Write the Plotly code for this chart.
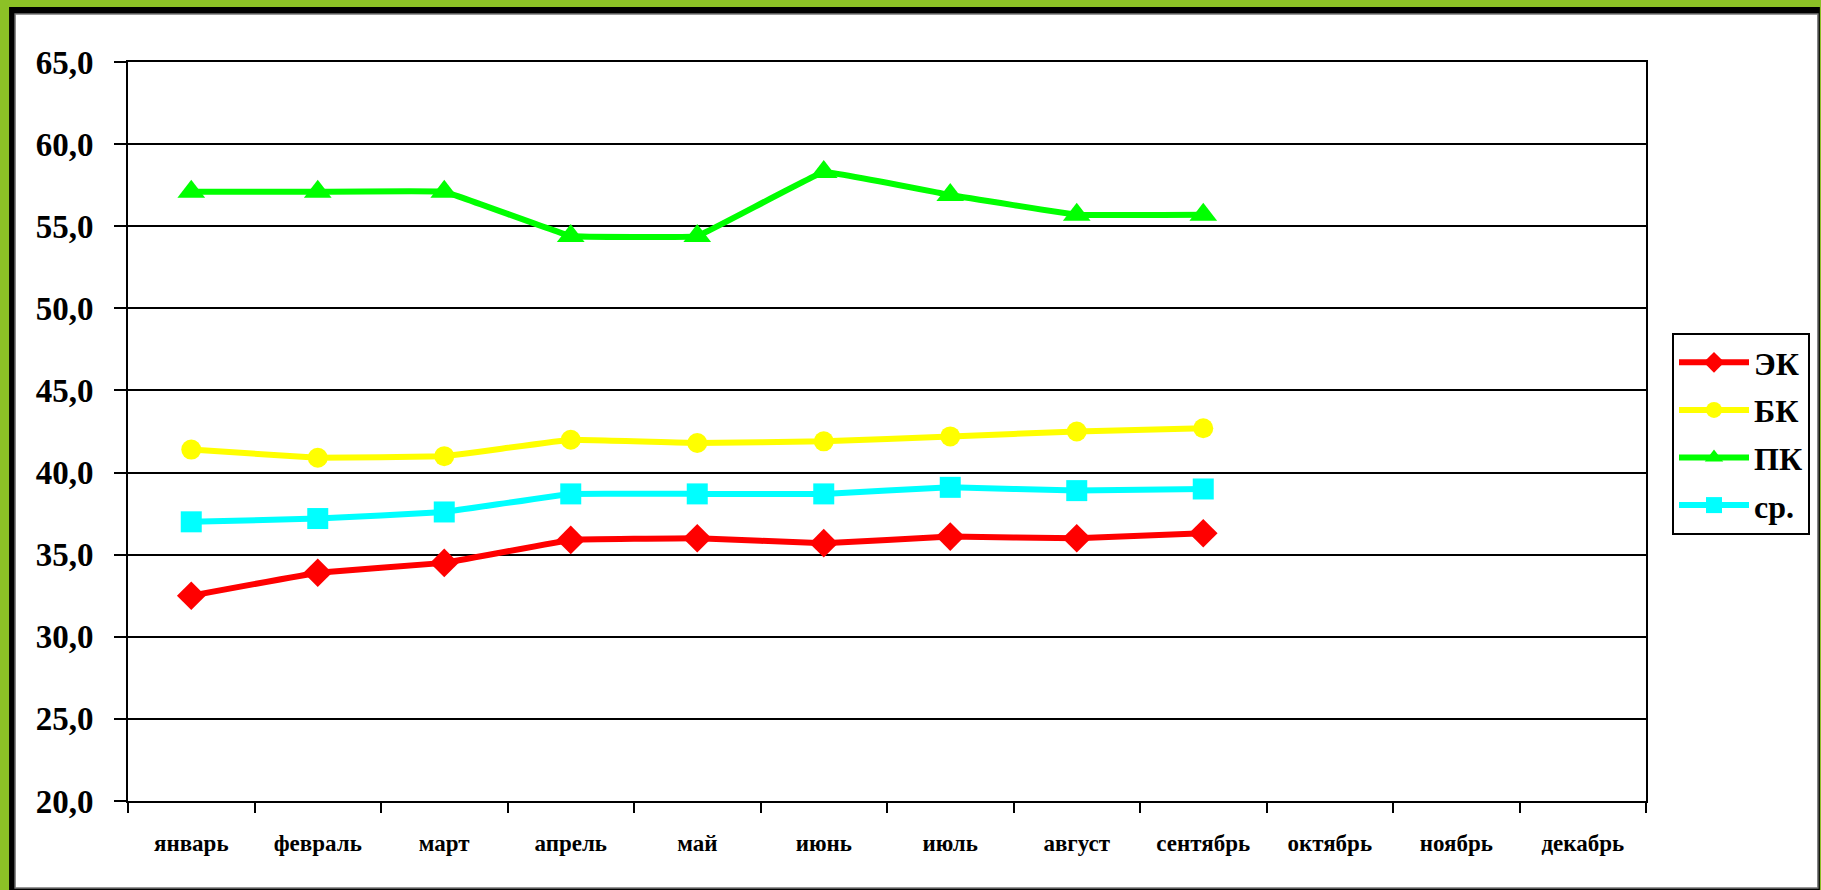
import plotly.graph_objects as go

# Months shown on the category axis
months = ["январь", "февраль", "март", "апрель", "май", "июнь",
          "июль", "август", "сентябрь", "октябрь", "ноябрь", "декабрь"]

# Monthly values (January–September filled in)
ek_values = [32.5, 33.9, 34.5, 35.9, 36.0, 35.7, 36.1, 36.0, 36.3]
bk_values = [41.4, 40.9, 41.0, 42.0, 41.8, 41.9, 42.2, 42.5, 42.7]
pk_values = [57.1, 57.1, 57.1, 54.4, 54.4, 58.3, 56.9, 55.7, 55.7]
avg_values = [37.0, 37.2, 37.6, 38.7, 38.7, 38.7, 39.1, 38.9, 39.0]

series_names = ["ЭК", "БК", "ПК", "ср."]
y_ticks = [20, 25, 30, 35, 40, 45, 50, 55, 60, 65]

W, H = 1821, 890
PLOT_L, PLOT_R, PLOT_T, PLOT_B = 128, 1647, 62, 801
SERIF = "Liberation Serif"


def px(x):
    return (x - PLOT_L) / (PLOT_R - PLOT_L)


def py(y):
    return (PLOT_B - y) / (PLOT_B - PLOT_T)


styles = [
    dict(color="#FF0000", symbol="diamond", size=22),
    dict(color="#FFFF00", symbol="circle", size=20),
    dict(color="#00FF00", symbol="triangle-up", size=24),
    dict(color="#00FFFF", symbol="square", size=21),
]

fig = go.Figure()
for name, vals, st in zip(series_names, [ek_values, bk_values, pk_values, avg_values], styles):
    fig.add_trace(go.Scatter(
        x=months[:len(vals)], y=vals, name=name, legendgroup=name,
        mode="lines+markers",
        line=dict(color=st["color"], width=6, shape="spline", smoothing=0.15),
        marker=dict(color=st["color"], symbol=st["symbol"], size=st["size"], line=dict(width=0)),
    ))

# Frame around the chart: green page, black edge, white panel
shapes = [
    dict(type="rect", xref="paper", yref="paper", layer="below",
         x0=px(9), x1=px(1821), y0=py(890), y1=py(7),
         fillcolor="#000000", line=dict(width=0)),
    dict(type="rect", xref="paper", yref="paper", layer="below",
         x0=px(15), x1=px(1819), y0=py(888), y1=py(14),
         fillcolor="#FFFFFF", line=dict(color="#777777", width=1.5)),
]

fig.update_layout(
    width=W, height=H, autosize=False,
    margin=dict(l=PLOT_L, r=W - PLOT_R, t=PLOT_T, b=H - PLOT_B, pad=0),
    paper_bgcolor="#8CC126",
    plot_bgcolor="#FFFFFF",
    separators=", ",
    shapes=shapes,
    font=dict(family=SERIF, color="#000000"),
    showlegend=True,
    legend=dict(
        x=px(1672), xanchor="left", y=py(333), yanchor="top",
        bgcolor="#FFFFFF", bordercolor="#000000", borderwidth=2,
        font=dict(family=SERIF, size=32, color="#000000", weight="bold"),
        tracegroupgap=3, itemwidth=70,
    ),
    xaxis=dict(
        type="category", categoryorder="array", categoryarray=months,
        range=[-0.5, 11.5], tickmode="array", tickvals=months,
        tickson="boundaries", ticks="outside", ticklen=10, tickwidth=2, tickcolor="#000000",
        showline=True, linecolor="#000000", linewidth=2, mirror=True,
        showgrid=False, zeroline=False,
        tickfont=dict(family=SERIF, size=23, color="#000000", weight="bold"),
        ticklabelstandoff=20,
    ),
    yaxis=dict(
        range=[20, 65], tickmode="array", tickvals=y_ticks, tickformat=".1f",
        ticks="outside", ticklen=12, tickwidth=2, tickcolor="#000000",
        showline=True, linecolor="#000000", linewidth=2, mirror=True,
        showgrid=True, gridcolor="#000000", gridwidth=2, zeroline=False,
        tickfont=dict(family=SERIF, size=33, color="#000000", weight="bold"),
        ticklabelstandoff=14,
    ),
)

fig.write_html("out.html")
